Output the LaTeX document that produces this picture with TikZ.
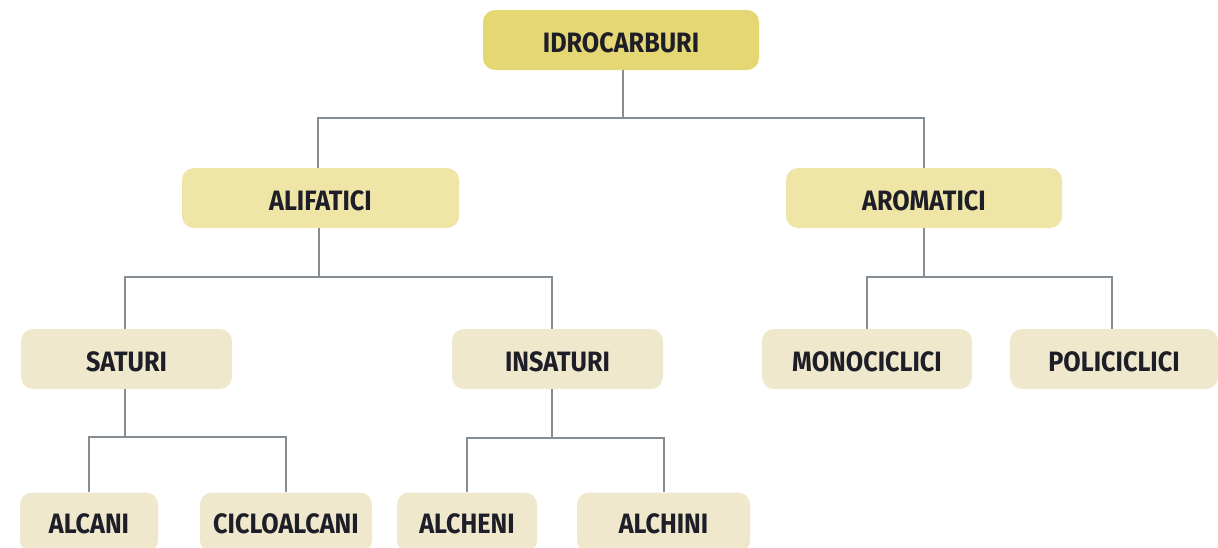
\documentclass[tikz,border=0pt]{standalone}
\usepackage{fontspec}
\setmainfont[FakeStretch=0.9]{Fira Sans}
\definecolor{topfill}{HTML}{E5D774}
\definecolor{midfill}{HTML}{EFE5A6}
\definecolor{lowfill}{HTML}{EFE8CD}
\definecolor{linecol}{HTML}{858E95}
\definecolor{txt}{HTML}{1E1E28}
\tikzset{
  box/.style={rounded corners=12pt, inner sep=0pt, minimum height=60pt,
    text=txt, font=\fontsize{28}{30}\selectfont\bfseries},
  topbox/.style={box, fill=topfill},
  midbox/.style={box, fill=midfill},
  lowbox/.style={box, fill=lowfill},
  lbl/.style={text=txt, font=\fontsize{28}{30}\selectfont\bfseries, inner sep=0pt},
  conn/.style={draw=linecol, line width=2pt}
}
\begin{document}
\begin{tikzpicture}[x=1pt,y=-1pt]
\useasboundingbox (0,0) rectangle (1218,547);
\clip (0,0) rectangle (1218,547);
\node[topbox, minimum width=276pt] (top) at (621,40) {};
\node[midbox, minimum width=277pt] (alif) at (320.5,198) {};
\node[midbox, minimum width=276pt] (arom) at (924,198) {};
\node[lowbox, minimum width=211pt] (sat) at (126.5,359) {};
\node[lowbox, minimum width=211pt] (ins) at (557.5,359) {};
\node[lowbox, minimum width=210pt] (mono) at (867,359) {};
\node[lowbox, minimum width=208pt] (poli) at (1114,359) {};
\node[lowbox, minimum width=138pt] (alcani) at (89,522.5) {};
\node[lowbox, minimum width=172pt] (ciclo) at (286,522.5) {};
\node[lowbox, minimum width=140pt] (alcheni) at (467,522.5) {};
\node[lowbox, minimum width=173pt] (alchini) at (663.5,522.5) {};
\node[lbl] (ttop) at ([yshift=-2.5pt]top.center) {IDROCARBURI};
\node[lbl] (talif) at ([yshift=-2.5pt]alif.center) {ALIFATICI};
\node[lbl] (tarom) at ([yshift=-2.5pt]arom.center) {AROMATICI};
\node[lbl] (tsat) at ([yshift=-2.5pt]sat.center) {SATURI};
\node[lbl] (tins) at ([yshift=-2.5pt]ins.center) {INSATURI};
\node[lbl] (tmono) at ([yshift=-2.5pt]mono.center) {MONOCICLICI};
\node[lbl] (tpoli) at ([yshift=-2.5pt]poli.center) {POLICICLICI};
\node[lbl] (talcani) at ([yshift=-1pt]alcani.center) {ALCANI};
\node[lbl] (tciclo) at ([yshift=-1pt]ciclo.center) {CICLOALCANI};
\node[lbl] (talcheni) at ([yshift=-1pt]alcheni.center) {ALCHENI};
\node[lbl] (talchini) at ([yshift=-1pt]alchini.center) {ALCHINI};
\coordinate (j1) at (623,118);
\coordinate (j2) at (319,277);
\coordinate (j3) at (924,277);
\coordinate (j4) at (125,437);
\coordinate (j5) at (552,438);
\draw[conn] (top.south -| j1) -- (j1);
\draw[conn] (alif.north -| 318,0) |- (j1) -| (arom.north);
\draw[conn] (alif.south -| j2) -- (j2);
\draw[conn] (sat.north -| 125,0) |- (j2) -| (ins.north -| 552,0);
\draw[conn] (arom.south -| j3) -- (j3);
\draw[conn] (mono.north) |- (j3) -| (poli.north -| 1112,0);
\draw[conn] (sat.south -| j4) -- (j4);
\draw[conn] (alcani.north) |- (j4) -| (ciclo.north);
\draw[conn] (ins.south -| j5) -- (j5);
\draw[conn] (alcheni.north) |- (j5) -| (alchini.north);
\end{tikzpicture}
\end{document}
